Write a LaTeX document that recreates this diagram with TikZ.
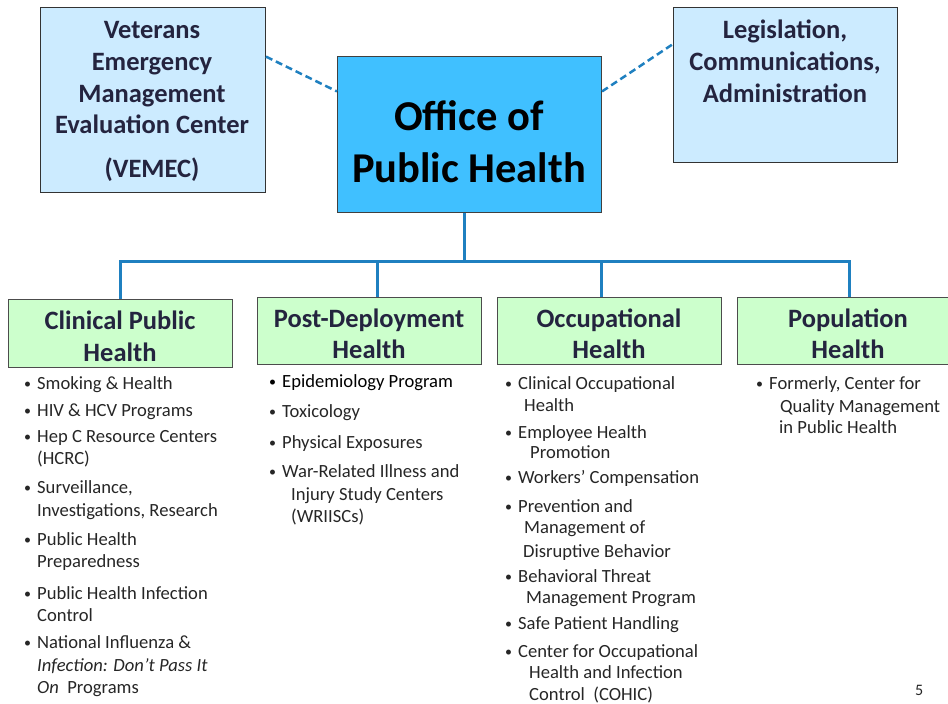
\documentclass[tikz,border=0pt]{standalone}
\usepackage{fontspec}
\setmainfont{Carlito}
\usetikzlibrary{positioning,calc}
\definecolor{PHSky}{HTML}{CCEBFF}
\definecolor{PHOffice}{HTML}{40C0FF}
\definecolor{PHMint}{HTML}{CCFFCC}
\definecolor{PHLink}{HTML}{1F80C0}
\definecolor{PHInk}{HTML}{24243F}
\definecolor{PHText}{HTML}{262626}
\tikzset{
    sidebox/.style = {draw=black!80, fill=PHSky, rectangle, anchor=north west,
        inner sep=0pt, line width=1pt},
    officebox/.style = {draw=black!75, fill=PHOffice, rectangle, anchor=north west,
        inner sep=0pt, line width=1pt, minimum width=264, minimum height=156},
    unit/.style = {draw=black!70, fill=PHMint, rectangle, anchor=north west,
        inner sep=0pt, line width=1pt, minimum width=224, minimum height=67},
    link/.style = {draw=PHLink, line width=3pt},
    dashlink/.style = {draw=PHLink, line width=2.5pt, dash pattern=on 7pt off 4pt},
    head/.style = {anchor=base, inner sep=0pt, text=PHInk,
        font=\fontsize{26.5}{32}\selectfont\bfseries},
    bighead/.style = {anchor=base, inner sep=0pt, text=black,
        font=\fontsize{42.5}{52}\selectfont\bfseries},
    entry/.style = {anchor=base west, inner sep=0pt, text=PHText,
        font=\fontsize{18.6}{22}\selectfont}
}
\newcommand{\bul}{\llap{\raisebox{1pt}{\fontsize{14}{14}\selectfont\textbullet}\hspace{6pt}}}

\begin{document}
\begin{tikzpicture}[x=1pt,y=-1pt]
    \useasboundingbox (0,0) rectangle (948,704);
    % top row
    \node[sidebox, minimum width=225, minimum height=185] (vemec) at (40,7) {};
    \node[officebox] (office) at (337,56) {};
    \node[sidebox, minimum width=224, minimum height=155] (legis) at (673,7) {};
    \node[head] (vemec-1) at (152,38) {Veterans};
    \node[head] (vemec-2) at (152,70) {Emergency};
    \node[head] (vemec-3) at (152,102) {Management};
    \node[head] (vemec-4) at (152,133) {Evaluation Center};
    \node[head] (vemec-5) at (152,177) {(VEMEC)};
    \node[head] (legis-1) at (785,38) {Legislation,};
    \node[head] (legis-2) at (785,70) {Communications,};
    \node[head] (legis-3) at (785,102) {Administration};
    \node[bighead] (office-1) at (469,130) {Office of};
    \node[bighead] (office-2) at (469,182) {Public Health};
    \draw[dashlink] (vemec.21) -- (office.162);
    \draw[dashlink] (office.18) -- (legis.160);

    % program offices
    \node[unit, minimum height=68] (cph) at (8,299) {};
    \node[unit] (pdh) at (257,297) {};
    \node[unit] (occ) at (497,297) {};
    \node[unit] (pop) at (737,297) {};
    \node[head] (cph-1) at (120,329) {Clinical Public};
    \node[head] (cph-2) at (120,361) {Health};
    \node[head] (pdh-1) at (369,327) {Post-Deployment};
    \node[head] (pdh-2) at (369,358) {Health};
    \node[head] (occ-1) at (609,327) {Occupational};
    \node[head] (occ-2) at (609,358) {Health};
    \node[head] (pop-1) at (848,327) {Population};
    \node[head] (pop-2) at (848,358) {Health};

    \coordinate (bus) at (0,261);
    \draw[link] ([xshift=-5]office.south) -- ([xshift=-5]office.south |- bus);
    \draw[link] (cph.north) |- ([xshift=-0.5]pop.north |- bus) -- ([xshift=-0.5]pop.north);
    \draw[link] ([xshift=8]pdh.north) -- ([xshift=8]pdh.north |- bus);
    \draw[link] ([xshift=-8]occ.north) -- ([xshift=-8]occ.north |- bus);

    % clinical public health
    \node[entry] (c1) at (37,389) {\bul Smoking \& Health};
    \node[entry] (c2) at (37,416) {\bul HIV \& HCV Programs};
    \node[entry] (c3) at (37,442) {\bul Hep C Resource Centers};
    \node[entry] (c3b) at (37,464) {(HCRC)};
    \node[entry] (c4) at (37,493) {\bul Surveillance,};
    \node[entry] (c4b) at (37,516) {Investigations, Research};
    \node[entry] (c5) at (37,545) {\bul Public Health};
    \node[entry] (c5b) at (37,567) {Preparedness};
    \node[entry] (c6) at (37,599) {\bul Public Health Infection};
    \node[entry] (c6b) at (37,621) {Control};
    \node[entry] (c7) at (37,648) {\bul National Influenza \&};
    \node[entry] (c7b) at (37,671) {\textit{Infection: Don’t Pass It}};
    \node[entry] (c7c) at (37,693) {\textit{On}\ \ Programs};

    % post-deployment health
    \node[entry, text=black] (p1) at (282,387) {\bul Epidemiology Program};
    \node[entry] (p2) at (282,417) {\bul Toxicology};
    \node[entry] (p3) at (282,448) {\bul Physical Exposures};
    \node[entry] (p4) at (282,477) {\bul War-Related Illness and};
    \node[entry] (p4b) at (291,500) {Injury Study Centers};
    \node[entry] (p4c) at (291,522) {(WRIISCs)};

    % occupational health
    \node[entry] (o1) at (518,389) {\bul Clinical Occupational};
    \node[entry] (o1b) at (524,411) {Health};
    \node[entry] (o2) at (518,438) {\bul Employee Health};
    \node[entry] (o2b) at (530,458) {Promotion};
    \node[entry] (o3) at (518,483) {\bul Workers’ Compensation};
    \node[entry] (o4) at (518,512) {\bul Prevention and};
    \node[entry] (o4b) at (524,533) {Management of};
    \node[entry] (o4c) at (523,557) {Disruptive Behavior};
    \node[entry] (o5) at (518,582) {\bul Behavioral Threat};
    \node[entry] (o5b) at (526,603) {Management Program};
    \node[entry] (o6) at (518,629) {\bul Safe Patient Handling};
    \node[entry] (o7) at (518,657) {\bul Center for Occupational};
    \node[entry] (o7b) at (529,678) {Health and Infection};
    \node[entry] (o7c) at (529,700) {Control\ \ (COHIC)};

    % population health
    \node[entry] (q1) at (769,389) {\bul Formerly, Center for};
    \node[entry] (q1b) at (780,412) {Quality Management};
    \node[entry] (q1c) at (779,433) {in Public Health};

    \node[entry, font=\fontsize{16}{18}\selectfont] (page) at (915,695) {5};
\end{tikzpicture}
\end{document}
